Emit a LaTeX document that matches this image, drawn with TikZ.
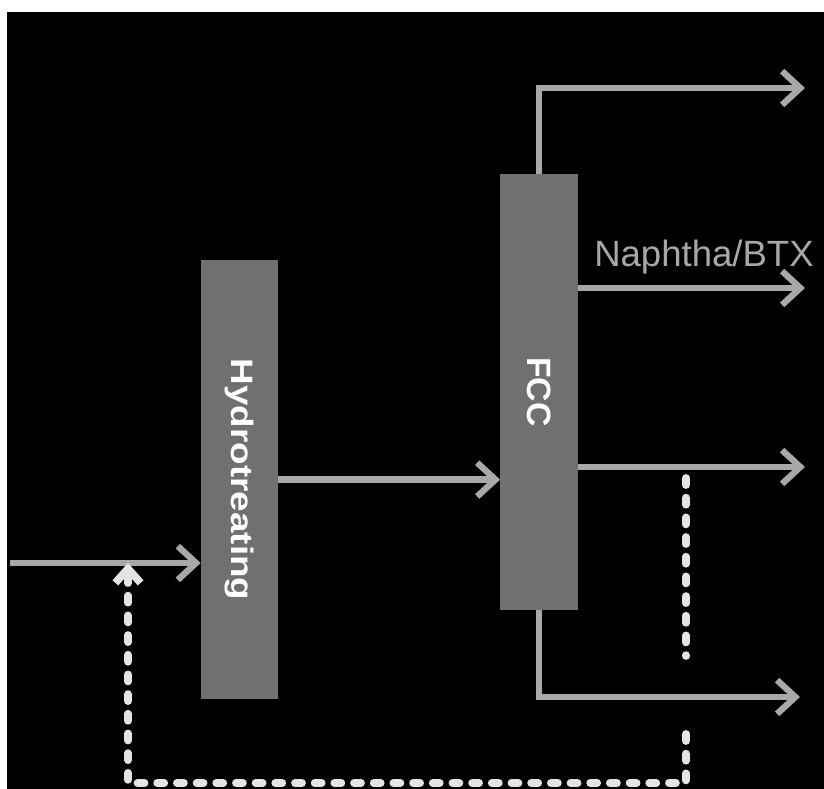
\documentclass[tikz,border=0pt]{standalone}
\usepackage{fontspec}
\setmainfont{Liberation Sans}
\usepackage{graphicx}
\usetikzlibrary{positioning,arrows.meta}

\definecolor{unitgray}{RGB}{112,112,112}
\definecolor{flowgray}{RGB}{168,168,168}
\definecolor{recyclewhite}{RGB}{228,228,228}

\begin{document}
\begin{tikzpicture}[
    >={Straight Barb[length=13pt,width=24pt]},
    unit/.style={fill=unitgray, inner sep=0pt, minimum width=1.93cm, text=white},
    flow/.style={draw=flowgray, line width=4.5pt, ->},
    recycle/.style={draw=recyclewhite, line width=5.5pt, line cap=round,
        dash pattern=on 5pt off 9pt}
]

\useasboundingbox (0,0) rectangle (20.6,-19.725);
\fill[black] (0.175,-0.3) rectangle (20.6,-19.725);

\node[unit, minimum height=10.975cm] (hydro) at (5.99,-11.99)
    {\rotatebox{-90}{\fontsize{22}{26}\selectfont\bfseries\scalebox{1.19}[1]{Hydrotreating}}};

\node[unit, minimum height=10.9cm] (fcc) at (13.475,-9.8)
    {\rotatebox{-90}{\fontsize{24}{28}\selectfont\bfseries FCC}};

\node[text=flowgray, font=\fontsize{26}{30}\selectfont] (naphlabel) at (17.6,-6.425) {Naphtha/BTX};

% free ends of the streams
\coordinate (feed) at (0.25,-14.075);
\coordinate (topout) at (20.125,-2.2);
\coordinate (naphout) at (20.125,-7.2);
\coordinate (midout) at (20.125,-11.675);
\coordinate (botout) at (20.0,-17.425);

% recycle line
\coordinate (rectop) at (17.15,-11.95);
\coordinate (gaptop) at (17.15,-16.4);
\coordinate (gapbot) at (17.15,-18.35);
\coordinate (reccorner) at (3.2,-19.575);

\draw[flow] (feed) -- (hydro.west |- feed);

\draw[flow] (hydro.east) -- (fcc.west |- hydro.east);

\draw[flow] (fcc.north) |- (topout);
\draw[flow] (fcc.east |- naphout) -- (naphout);
\draw[flow] (fcc.east |- midout) -- (midout);
\draw[flow] (fcc.south) |- (botout);

\draw[recycle] (rectop) -- (gaptop);
\draw[recycle, -{Straight Barb[length=10pt,width=18pt]}] (gapbot) |- (reccorner) -- (reccorner |- feed);

\end{tikzpicture}
\end{document}
